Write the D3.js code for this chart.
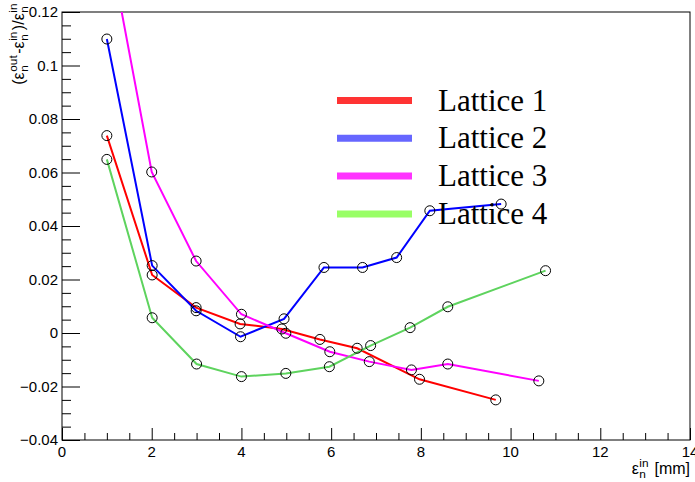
<!DOCTYPE html>
<html>
<head>
<meta charset="utf-8">
<script src="https://cdn.jsdelivr.net/npm/d3@7"></script>
<style>
  html, body { margin: 0; padding: 0; background: #fff; }
  svg { display: block; }
</style>
</head>
<body>
<svg id="chart" width="695" height="482"></svg>
<script>
// Emittance growth vs. input emittance for four lattices
const lattice1X = [1.0, 2.01, 2.99, 3.97, 4.90, 5.75, 6.58, 7.97, 9.67];
const lattice1Y = [0.0738, 0.0217, 0.0095, 0.0034, 0.0015, -0.0024, -0.0057, -0.0173, -0.0250];

const lattice2X = [1.0, 2.01, 2.99, 3.98, 4.95, 5.84, 6.70, 7.46, 8.20, 9.79];
const lattice2Y = [0.1099, 0.0252, 0.0083, -0.0014, 0.0053, 0.0245, 0.0245, 0.0282, 0.0457, 0.0482];

const lattice3X = [1.0, 2.0, 2.99, 4.0, 4.99, 5.97, 6.85, 7.79, 8.60, 10.63];
const lattice3Y = [0.1495, 0.0602, 0.0269, 0.0070, -0.0001, -0.0070, -0.0107, -0.0138, -0.0116, -0.0179];

const lattice4X = [1.0, 2.01, 3.0, 4.0, 4.99, 5.96, 6.88, 7.76, 8.60, 10.78];
const lattice4Y = [0.0649, 0.0057, -0.0116, -0.0163, -0.0151, -0.0126, -0.0047, 0.0020, 0.0098, 0.0233];

const seriesNames = ["Lattice 1", "Lattice 2", "Lattice 3", "Lattice 4"];
const lineColors = ["#ff0000", "#0000ff", "#ff00ff", "#5ed35e"];
const legendColors = ["#ff3333", "#6666ff", "#ff33ff", "#99ff66"];

const xTicks = [0, 2, 4, 6, 8, 10, 12, 14];
const yTicks = [-0.04, -0.02, 0, 0.02, 0.04, 0.06, 0.08, 0.1, 0.12];
const yTickLabels = ["\u22120.04", "\u22120.02", "0", "0.02", "0.04", "0.06", "0.08", "0.1", "0.12"];

const series = [
  { x: lattice1X, y: lattice1Y },
  { x: lattice2X, y: lattice2Y },
  { x: lattice3X, y: lattice3Y },
  { x: lattice4X, y: lattice4Y }
];

const svg = d3.select("#chart");
const frame = { left: 62, right: 690, top: 12, bottom: 440 };

const x = d3.scaleLinear().domain([0, 14]).range([frame.left, frame.right]);
const y = d3.scaleLinear().domain([-0.04, 0.12]).range([frame.bottom, frame.top]);

const tickFont = "'Liberation Sans', Arial, sans-serif";

// clip region = plot frame
svg.append("defs").append("clipPath").attr("id", "plotClip")
  .append("rect")
  .attr("x", frame.left).attr("y", frame.top)
  .attr("width", frame.right - frame.left).attr("height", frame.bottom - frame.top);

// frame box
svg.append("rect")
  .attr("x", frame.left).attr("y", frame.top)
  .attr("width", frame.right - frame.left).attr("height", frame.bottom - frame.top)
  .attr("fill", "none").attr("stroke", "#000").attr("stroke-width", 1);

// X axis (ticks pointing up into plot)
const xMinor = d3.range(0, 14.001, 0.5);
const xAxis = d3.axisBottom(x).tickValues(xMinor)
  .tickSize(0).tickFormat("");
const gx = svg.append("g").attr("transform", `translate(0,${frame.bottom})`).call(xAxis);
gx.select(".domain").remove();
gx.selectAll(".tick line")
  .attr("y2", d => (Math.abs(d % 2) < 1e-6 ? -12 : -7))
  .attr("stroke", "#000").attr("stroke-width", 1);
svg.append("g").selectAll("text").data(xTicks).join("text")
  .attr("x", d => x(d)).attr("y", frame.bottom + 17)
  .attr("text-anchor", "middle")
  .attr("font-family", tickFont).attr("font-size", 15)
  .text(d => d);

// Y axis (ticks pointing right into plot)
const yMinor = d3.range(-0.04, 0.12001, 0.005).map(v => Math.round(v * 1000) / 1000);
const yAxis = d3.axisLeft(y).tickValues(yMinor).tickSize(0).tickFormat("");
const gy = svg.append("g").attr("transform", `translate(${frame.left},0)`).call(yAxis);
gy.select(".domain").remove();
gy.selectAll(".tick line")
  .attr("x2", d => (Math.abs(Math.round(d * 1000) % 20) === 0 ? 18 : 9))
  .attr("stroke", "#000").attr("stroke-width", 1);
svg.append("g").selectAll("text").data(yTicks).join("text")
  .attr("x", frame.left - 4).attr("y", d => y(d) + 5)
  .attr("text-anchor", "end")
  .attr("font-family", tickFont).attr("font-size", 15)
  .text((d, i) => yTickLabels[i]);

// Text with stacked sub/superscripts; returns the group and its width
function richText(parent, parts, size) {
  const g = parent.append("g");
  let cx = 0;
  parts.forEach(p => {
    if (p.t !== undefined) {
      const t = g.append("text").attr("x", cx).attr("y", 0)
        .attr("xml:space", "preserve")
        .attr("font-family", tickFont).attr("font-size", size).text(p.t);
      cx += t.node().getComputedTextLength();
    } else {
      const s = size * 0.74;
      const sup = g.append("text").attr("x", cx + 0.5).attr("y", -size * 0.45)
        .attr("font-family", tickFont).attr("font-size", s).text(p.sup);
      const sub = g.append("text").attr("x", cx + 0.5).attr("y", size * 0.25)
        .attr("font-family", tickFont).attr("font-size", s).text(p.sub);
      cx += Math.max(sup.node().getComputedTextLength(), sub.node().getComputedTextLength()) + 2;
    }
  });
  return { g, width: cx };
}

// X axis title, right aligned
const xt = richText(svg, [{ t: "\u03b5" }, { sub: "n", sup: "in" }, { t: "\u00a0[mm]" }], 16);
xt.g.attr("transform", `translate(${frame.right - xt.width},474)`);

// Y axis title, rotated, right aligned to the top
const yt = richText(svg, [
  { t: "(\u03b5" }, { sub: "n", sup: "out" }, { t: "-\u03b5" }, { sub: "n", sup: "in" },
  { t: ")/\u03b5" }, { sub: "n", sup: "in" }
], 16);
yt.g.attr("transform", `translate(24,${2 + yt.width}) rotate(-90)`);

// Series lines and markers
const plot = svg.append("g").attr("clip-path", "url(#plotClip)");
const line = d3.line().x(d => x(d[0])).y(d => y(d[1]));

series.forEach((s, i) => {
  const pts = s.x.map((v, j) => [v, s.y[j]]);
  plot.append("path").datum(pts)
    .attr("d", line)
    .attr("fill", "none")
    .attr("stroke", lineColors[i])
    .attr("stroke-width", 2);
});
series.forEach((s, i) => {
  const pts = s.x.map((v, j) => [v, s.y[j]]);
  plot.append("g").selectAll("circle").data(pts).join("circle")
    .attr("cx", d => x(d[0])).attr("cy", d => y(d[1]))
    .attr("r", 5)
    .attr("fill", "none").attr("stroke", "#000").attr("stroke-width", 1);
});

// Legend
const legend = svg.append("g");
seriesNames.forEach((name, i) => {
  const ly = 100.5 + i * 37.8;
  legend.append("line")
    .attr("x1", 337).attr("x2", 412).attr("y1", ly).attr("y2", ly)
    .attr("stroke", legendColors[i]).attr("stroke-width", 7);
  legend.append("text")
    .attr("x", 438).attr("y", ly + 10)
    .attr("font-family", "'Liberation Serif', 'Times New Roman', serif")
    .attr("font-size", 31)
    .text(name);
});
</script>
</body>
</html>
